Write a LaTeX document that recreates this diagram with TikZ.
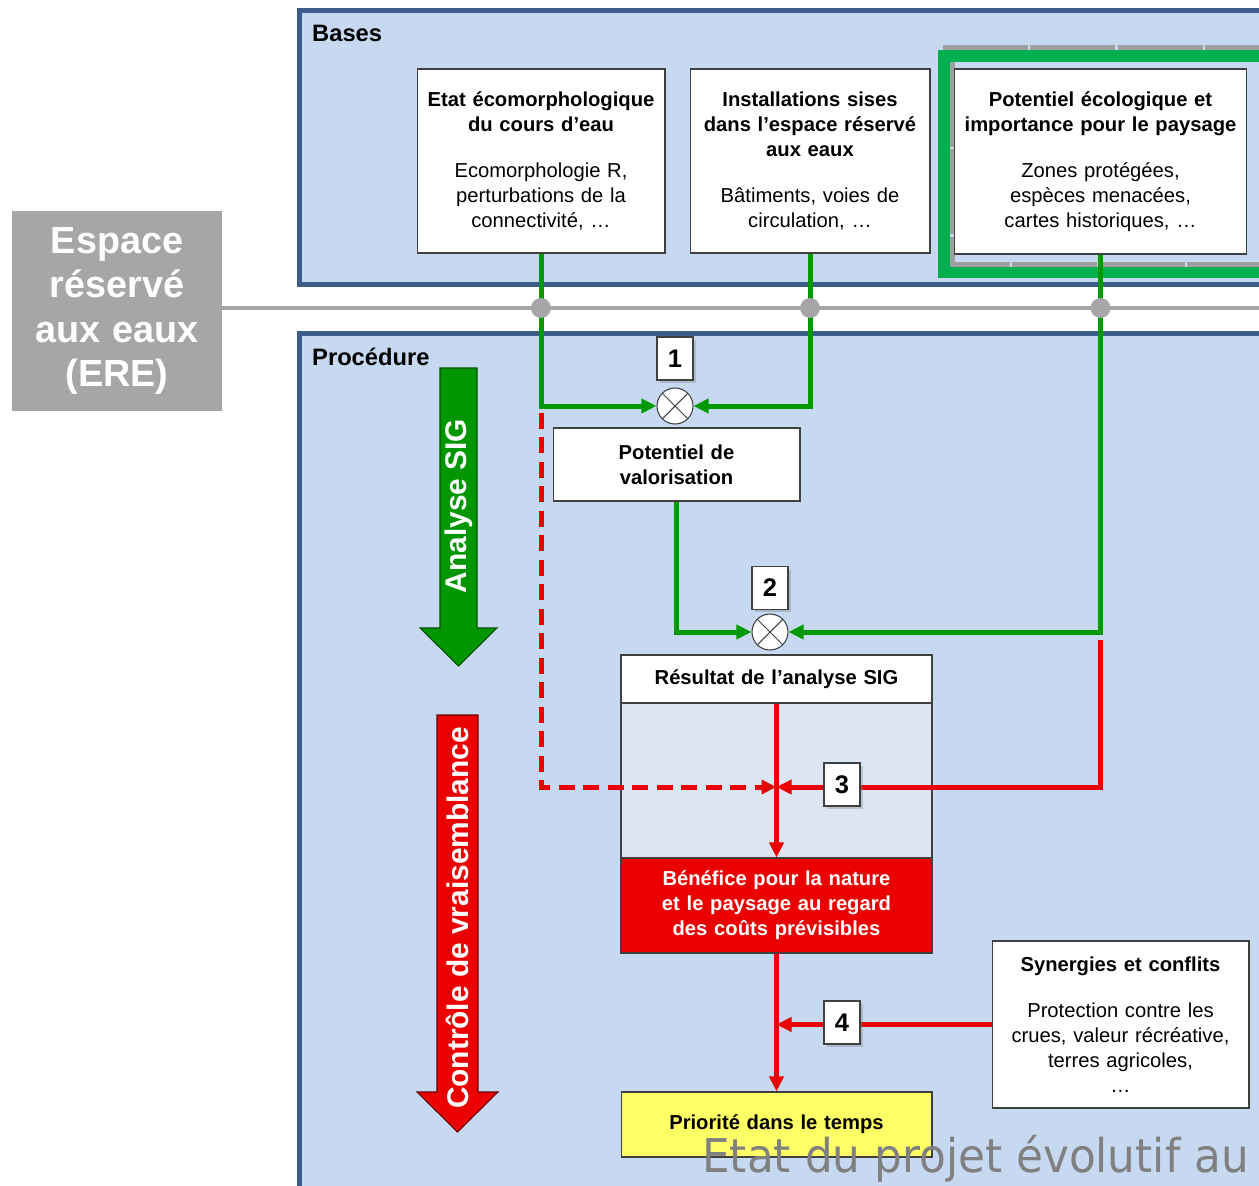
\documentclass[tikz,border=0pt]{standalone}
\usepackage{fontspec}
\setmainfont{Liberation Sans}
\newfontfamily\wmfont{DejaVu Sans}
\usetikzlibrary{arrows.meta,shadows}

\definecolor{panelblue}{RGB}{198,217,241}
\definecolor{paneledge}{RGB}{62,92,138}
\definecolor{eregrey}{RGB}{166,166,166}
\definecolor{linegreen}{RGB}{0,153,0}
\definecolor{framegreen}{RGB}{0,176,80}
\definecolor{arrowgreen}{RGB}{0,150,0}
\definecolor{linered}{RGB}{235,0,0}
\definecolor{innerblue}{RGB}{220,230,242}
\definecolor{prioyellow}{RGB}{255,255,102}

\tikzset{
  panel/.style={fill=panelblue,draw=paneledge,line width=0.1cm},
  headlabel/.style={anchor=west,font=\fontsize{13.5}{16}\selectfont\bfseries},
  infobox/.style={draw=black!75,fill=white,line width=0.6pt,align=center,inner sep=0pt,
    font=\fontsize{11.5}{14.2}\selectfont},
  numbox/.style={draw=black!75,fill=white,line width=0.6pt,minimum width=0.72cm,minimum height=0.86cm,
    inner sep=0pt,font=\fontsize{14.5}{16}\selectfont\bfseries,
    drop shadow={shadow xshift=0.06cm,shadow yshift=-0.06cm,opacity=0.35}},
  mult/.style={circle,draw=black!75,fill=white,line width=0.6pt,minimum size=0.72cm,inner sep=0pt,
    path picture={\draw[black!75,line width=0.6pt] (path picture bounding box.north west) -- (path picture bounding box.south east)
      (path picture bounding box.north east) -- (path picture bounding box.south west);}},
  junction/.style={circle,fill=eregrey,minimum size=0.4cm,inner sep=0pt},
  gline/.style={draw=linegreen,line width=0.1cm,-{Triangle[length=0.3cm,width=0.28cm]}},
  rline/.style={draw=linered,line width=0.1cm,-{Triangle[length=0.3cm,width=0.28cm]}},
  bigarrowtext/.style={rotate=90,text=white,font=\fontsize{17}{19}\selectfont\bfseries},
}

\begin{document}
\begin{tikzpicture}[x=0.02cm,y=-0.02cm]
\useasboundingbox (0,0) rectangle (1259,1186);
\clip (0,0) rectangle (1259,1186);
% panels
\draw[panel] (299.5,10.5) rectangle (1290,284.5);
\draw[panel] (299.5,333) rectangle (1290,1210);
\node[headlabel] (bases) at (306,33) {Bases};
\node[headlabel] (proc) at (306,357) {Procédure};
% highlighted frame
\draw[gray!75,line width=0.1cm,dash pattern=on 1.7cm off 0.05cm] (943,47.5) -- (1270,47.5);
\draw[gray!75,line width=0.1cm,dash pattern=on 1.7cm off 0.05cm] (952.5,62) -- (952.5,264.5) -- (1270,264.5);
\draw[framegreen,line width=0.24cm] (944,56) rectangle (1290,272.5);
% espace reserve
\node[fill=eregrey,minimum width=4.2cm,minimum height=4cm,text width=4.1cm,align=center,inner sep=0pt,
  text=white,font=\fontsize{21.5}{25.3}\selectfont\bfseries] (ere) at (117,311) {Espace\\réservé\\aux eaux\\(ERE)};
\coordinate (greyend) at (1270,308);
\draw[eregrey,line width=0.08cm] (ere.east |- greyend) -- (greyend);
% bases
\node[infobox,minimum width=4.96cm,minimum height=3.68cm,text width=4.8cm] (etat) at (541,161)
  {{\bfseries Etat écomorphologique\\du cours d’eau}\\[0.42cm]Ecomorphologie R,\\perturbations de la\\connectivité, …};
\node[infobox,minimum width=4.8cm,minimum height=3.68cm,text width=4.7cm] (install) at (810,161)
  {{\bfseries Installations sises\\dans l’espace réservé\\aux eaux}\\[0.42cm]Bâtiments, voies de\\circulation, …};
\node[infobox,minimum width=5.84cm,minimum height=3.7cm,text width=5.7cm] (ecolo) at (1100.5,161.5)
  {{\bfseries Potentiel écologique et\\importance pour le paysage}\\[0.42cm]Zones protégées,\\espèces menacées,\\cartes historiques, …};
% procedure
\node[mult] (x1) at (675,406) {};
\node[mult] (x2) at (770,632) {};
\node[infobox,minimum width=4.94cm,minimum height=1.46cm,text width=4.8cm,font=\fontsize{11.5}{14.2}\selectfont\bfseries]
  (pot) at (676.5,464.5) {Potentiel de\\valorisation};
\node[infobox,minimum width=6.22cm,minimum height=0.96cm,text width=6cm,font=\fontsize{11.5}{14.2}\selectfont\bfseries]
  (restitle) at (776.5,679) {Résultat de l’analyse SIG};
\node[infobox,fill=innerblue,minimum width=6.22cm,minimum height=3.1cm] (resbody) at (776.5,780.5) {};
\node[infobox,fill=linered,minimum width=6.22cm,minimum height=1.9cm,text width=6cm,text=white,
  font=\fontsize{11.5}{14.2}\selectfont\bfseries] (benefit) at (776.5,905.5)
  {Bénéfice pour la nature\\et le paysage au regard\\des coûts prévisibles};
\draw[black!75,line width=0.6pt] (restitle.north west) rectangle (benefit.south east);
\node[infobox,fill=prioyellow,minimum width=6.22cm,minimum height=1.3cm,text width=6cm,
  font=\fontsize{11.5}{14.2}\selectfont\bfseries] (prio) at (776.5,1124.5) {Priorité dans le temps};
\node[infobox,minimum width=5.14cm,minimum height=3.34cm,text width=5cm] (syn) at (1120.5,1024.5)
  {{\bfseries Synergies et conflits}\\[0.42cm]Protection contre les\\crues, valeur récréative,\\terres agricoles,\\…};
% big arrows
\draw[fill=arrowgreen,draw=green!30!black,line width=0.6pt] (440,368) -- (477,368) -- (477,628) -- (497,628)
  -- (458.5,666) -- (420,628) -- (440,628) -- cycle;
\node[bigarrowtext] (sig) at (458.5,506) {Analyse SIG};
\draw[fill=linered,draw=red!40!black,line width=0.6pt] (437,715) -- (478,715) -- (478,1092) -- (498,1092)
  -- (457.5,1132) -- (417,1092) -- (437,1092) -- cycle;
\node[bigarrowtext] (ctrl) at (457.5,918) {Contrôle de vraisemblance};
% connectors
\draw[gline] (etat.south) |- (x1.west);
\draw[gline] (install.south) |- (x1.east);
\draw[gline] (pot.south) |- (x2.west);
\draw[gline] (ecolo.south) |- (x2.east);
\node[junction] (ja) at (etat.south |- greyend) {};
\node[junction] (jb) at (install.south |- greyend) {};
\node[junction] (jc) at (ecolo.south |- greyend) {};
\coordinate (dashtop) at (541,413);
\coordinate (redtop) at (1100.5,640);
\coordinate (hit3) at (776.5,787);
\draw[rline] (restitle.south) -- (benefit.north);
\draw[rline,dash pattern=on 0.32cm off 0.17cm] (dashtop) |- (hit3);
\draw[rline] (redtop) |- (hit3);
\draw[rline] (benefit.south) -- (prio.north);
\draw[rline] (syn.west) -- (benefit.south |- syn.west);
% step numbers
\node[numbox] (n1) at (675,358.5) {1};
\node[numbox] (n2) at (770,588) {2};
\node[numbox] (n3) at (842,784.5) {3};
\node[numbox] (n4) at (842,1022.5) {4};
% watermark
\node[anchor=base west,inner sep=0pt,text=black!50,xscale=0.94,font=\wmfont\fontsize{26.5}{30}\selectfont]
  (wm) at (702,1172) {Etat du projet évolutif au};
\end{tikzpicture}
\end{document}
